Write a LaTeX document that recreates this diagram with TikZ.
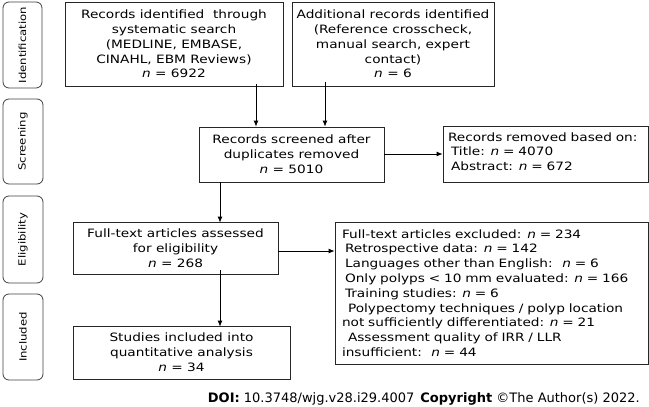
\documentclass[tikz,border=0pt]{standalone}
\usepackage{fontspec}
\setmainfont{DejaVu Sans}[FakeStretch=1.19]
\newfontfamily\doifont{DejaVu Sans}
\usetikzlibrary{arrows.meta}
\newcommand{\nn}{\textit{n}}
\begin{document}
\begin{tikzpicture}[x=1pt,y=-1pt,
  box/.style={draw=black!85,line width=0.8pt,inner sep=0pt,align=center,font=\fontsize{11.5}{14.8}\selectfont},
  side/.style={draw=black!75,line width=0.8pt,rounded corners=6pt,inner sep=0pt},
  sidetext/.style={rotate=90,font=\fontsize{9.8}{12}\selectfont,inner sep=0pt},
  arr/.style={draw=black,line width=0.8pt,-{Latex[length=6pt,width=5pt]}}]
\useasboundingbox (0,0) rectangle (649,407);
% side labels
\node[side,minimum width=39pt,minimum height=86pt] (sid) at (22.5,45) {};
\node[sidetext] (tid) at (sid.center) {Identification};
\node[side,minimum width=40pt,minimum height=85pt] (ssc) at (23,141.5) {};
\node[sidetext] (tsc) at (ssc.center) {Screening};
\node[side,minimum width=40pt,minimum height=87pt] (sel) at (23,239.5) {};
\node[sidetext] (tel) at (sel.center) {Eligibility};
\node[side,minimum width=40pt,minimum height=86pt] (sin) at (23,337) {};
\node[sidetext] (tin) at (sin.center) {Included};
% boxes
\node[box,minimum width=218pt,minimum height=84pt] (b1) at (174,44) {Records identified \ through\\systematic search\\(MEDLINE, EMBASE,\\CINAHL, EBM Reviews)\\\nn{} = 6922};
\node[box,minimum width=202pt,minimum height=84pt] (b2) at (393,44) {Additional records identified\\(Reference crosscheck,\\manual search, expert\\contact)\\\nn{} = 6};
\node[box,minimum width=185pt,minimum height=55pt] (scr) at (291.5,154.5) {Records screened after\\duplicates removed\\\nn{} = 5010};
\node[box,minimum height=56pt,align=left,inner xsep=5pt,text width=195pt] (rem) at (545.5,154) {Records removed based on:\\\hspace{3pt}Title: \nn{} = 4070\\\hspace{3pt}Abstract: \nn{} = 672\rule[-5pt]{0pt}{0pt}};
\node[box,minimum width=205pt,minimum height=52pt] (eli) at (175.5,248) {Full-text articles assessed\\for eligibility\\\nn{} = 268};
\node[box,minimum height=142pt,align=left,inner xsep=7pt,text width=299pt] (exc) at (491.5,293) {Full-text articles excluded: \nn{} = 234\\
\hspace{3pt}Retrospective data: \nn{} = 142\\
\hspace{3pt}Languages other than English: \ \nn{} = 6\\
\hspace{3pt}Only polyps < 10 mm evaluated: \nn{} = 166\\
\hspace{3pt}Training studies: \nn{} = 6\\
\hspace{6pt}Polypectomy techniques / polyp location\\
not sufficiently differentiated: \nn{} = 21\\
\hspace{6pt}Assessment quality of IRR / LLR\\
insufficient: \ \nn{} = 44};
\node[box,minimum width=217pt,minimum height=53pt] (inc) at (181.5,352.5) {Studies included into\\quantitative analysis\\\nn{} = 34};
% connector x-positions
\coordinate (xa) at (256,0);
\coordinate (xb) at (325,0);
\coordinate (xc) at (220,0);
\coordinate (ye) at (0,251);
\draw[arr] ([yshift=2pt]b1.south -| xa) -- (scr.north -| xa);
\draw[arr] ([yshift=4pt]b2.south -| xb) -- (scr.north -| xb);
\draw[arr] (scr.east |- rem.west) -- (rem.west);
\draw[arr] (scr.south -| xc) -- ([yshift=-1pt]eli.north -| xc);
\draw[arr] (eli.east |- ye) -- (exc.west |- ye);
\draw[arr] ([yshift=4pt]eli.south -| xc) -- ([yshift=-1pt]inc.north -| xc);
% footer
\node[anchor=base east,inner sep=0pt,font=\doifont\fontsize{13}{15}\selectfont] (doi) at (640,402) {\textbf{DOI:} 10.3748/wjg.v28.i29.4007\hspace{6pt}\textbf{Copyright} ©The Author(s) 2022.};
\end{tikzpicture}
\end{document}
